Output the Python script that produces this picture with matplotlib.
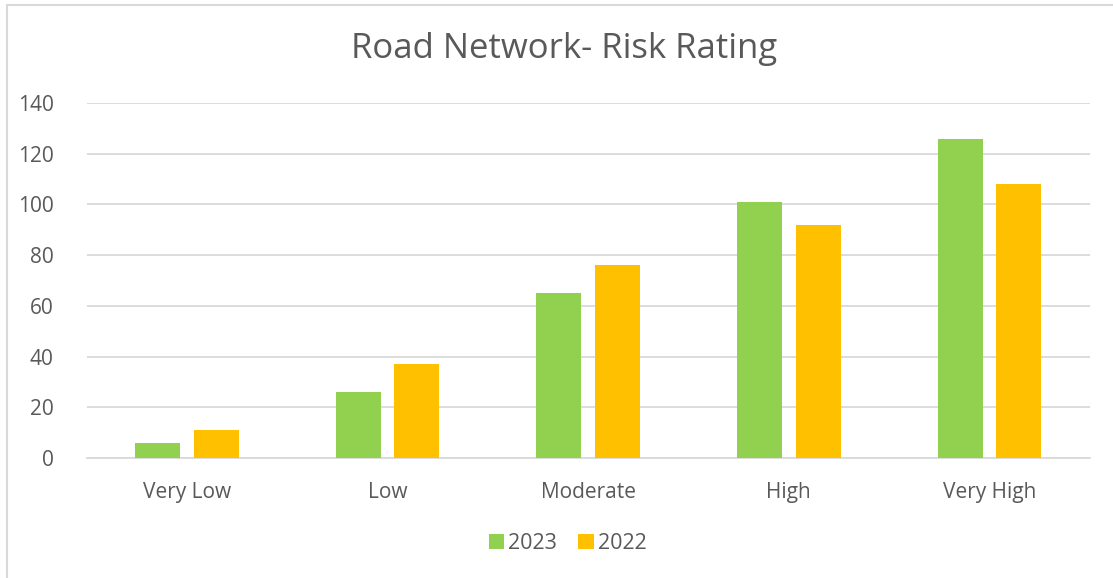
import matplotlib.pyplot as plt
import numpy as np
from matplotlib.lines import Line2D

categories = ["Very Low", "Low", "Moderate", "High", "Very High"]
values_2023 = [6, 26, 65, 101, 126]
values_2022 = [11, 37, 76, 92, 108]
y_ticks = [0, 20, 40, 60, 80, 100, 120, 140]

plt.rcParams['font.family'] = ['Open Sans', 'DejaVu Sans']
text_col = "#595959"
green = "#92D050"
orange = "#FFC000"


def main():
    fig = plt.figure(figsize=(11.13, 5.78), dpi=100)
    ax = fig.add_axes([0.078, 0.2076, 0.901, 0.6142])

    x = np.arange(len(categories))
    w = 0.224
    off = 0.146
    ax.bar(x - off, values_2023, w, color=green, label="2023", zorder=3)
    ax.bar(x + off, values_2022, w, color=orange, label="2022", zorder=3)

    ax.set_xlim(-0.5, len(categories) - 0.5)
    ax.set_ylim(0, 140)
    ax.set_yticks(y_ticks)
    ax.set_xticks(x)
    ax.set_xticklabels(categories)
    ax.tick_params(axis="both", length=0, labelsize=15, colors=text_col)
    ax.tick_params(axis="x", pad=17)
    ax.tick_params(axis="y", pad=24)
    ax.grid(axis="y", color="#D9D9D9", linewidth=1.3, zorder=0)
    for s in ["top", "right", "left"]:
        ax.spines[s].set_visible(False)
    ax.spines["bottom"].set_color("#D9D9D9")
    ax.spines["bottom"].set_linewidth(1.3)

    fig.text(0.507, 0.915, "Road Network- Risk Rating", ha="center", va="center",
             fontsize=25, color=text_col)

    fig.legend(loc="center", bbox_to_anchor=(0.51, 0.06), ncol=2, frameon=False,
               fontsize=15.5, labelcolor=text_col, handlelength=0.7, handleheight=0.7,
               handletextpad=0.2, columnspacing=1.0)

    # outer chart border (top and left visible)
    fig.add_artist(Line2D([0.006, 1.0], [0.991, 0.991], color="#D9D9D9", linewidth=1.5,
                          transform=fig.transFigure))
    fig.add_artist(Line2D([0.006, 0.006], [0.0, 0.991], color="#D9D9D9", linewidth=1.5,
                          transform=fig.transFigure))

    fig.savefig("out.png", dpi=100)


if __name__ == "__main__":
    main()
